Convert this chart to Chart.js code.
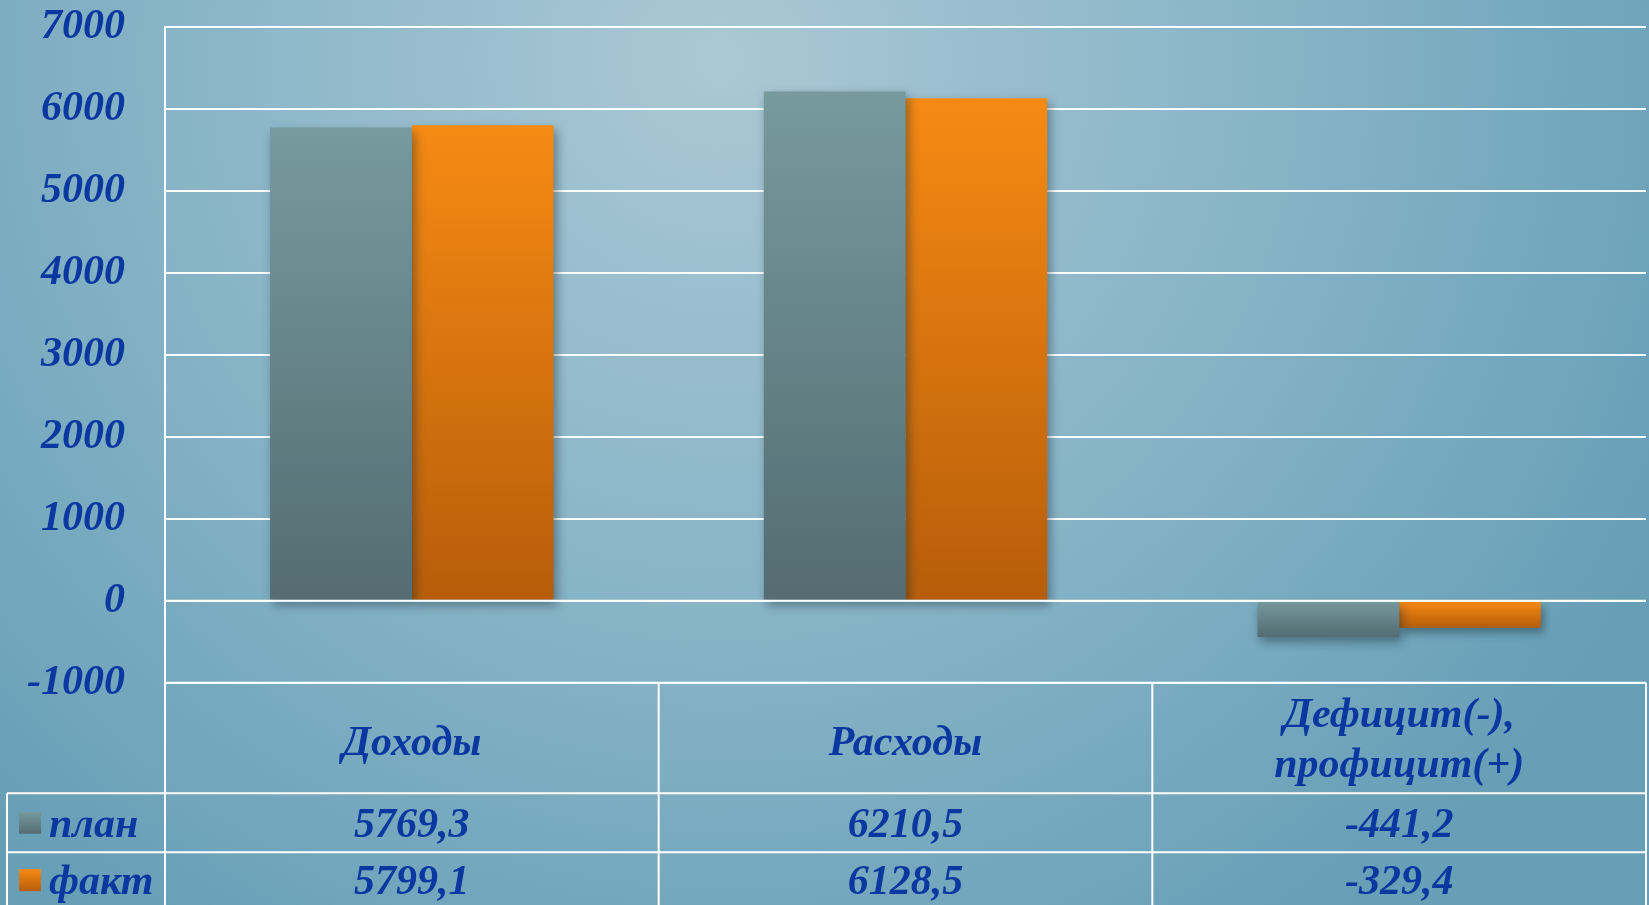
<!DOCTYPE html>
<html>
<head>
<meta charset="utf-8">
<script src="https://cdn.jsdelivr.net/npm/chart.js@4/dist/chart.umd.min.js"></script>
<style>
  html, body { margin: 0; padding: 0; overflow: hidden; }
  canvas { display: block; }
</style>
</head>
<body>
<canvas id="chart" width="1649" height="905"></canvas>
<script>
const categories = ['Доходы', 'Расходы', ['Дефицит(-),', 'профицит(+)']];
const planValues = [5769.3, 6210.5, -441.2];
const factValues = [5799.1, 6128.5, -329.4];
const seriesNames = ['план', 'факт'];
const yMin = -1000, yMax = 7000, yStep = 1000;

const TEXT_BLUE = '#0a37a0';
const FONT = 'italic bold 42px "Liberation Serif", "Times New Roman", serif';

// vertical gradient for one bar, from its top to its bottom
function barGradient(ctx, topColor, bottomColor) {
    const chart = ctx.chart;
    const y = chart.scales.y;
    if (!chart.chartArea || !y || ctx.raw === undefined) return topColor;
    const yv = y.getPixelForValue(ctx.raw);
    const y0 = y.getPixelForValue(0);
    const g = chart.ctx.createLinearGradient(0, Math.min(yv, y0), 0, Math.max(yv, y0));
    g.addColorStop(0, topColor);
    g.addColorStop(1, bottomColor);
    return g;
}

const PLAN_COLORS = ['#769a9e', '#546c72'];
const FACT_COLORS = ['#f78a13', '#b65d0a'];

const backgroundPlugin = {
    id: 'background',
    beforeDraw(chart) {
        const { ctx, width, height } = chart;
        const g = ctx.createRadialGradient(720, 60, 0, 720, 60, 1050);
        g.addColorStop(0, '#aac8d5');
        g.addColorStop(0.55, '#86b3c6');
        g.addColorStop(1, '#679fb7');
        ctx.save();
        ctx.fillStyle = g;
        ctx.fillRect(0, 0, width, height);
        ctx.restore();
    }
};

const shadowPlugin = {
    id: 'barShadow',
    beforeDatasetsDraw(chart) {
        const ctx = chart.ctx;
        ctx.save();
        ctx.shadowColor = 'rgba(20, 40, 50, 0.45)';
        ctx.shadowBlur = 10;
        ctx.shadowOffsetX = 3;
        ctx.shadowOffsetY = 5;
    },
    afterDatasetsDraw(chart) {
        const ctx = chart.ctx;
        ctx.restore();
        // zero line sits on top of the bar bases
        const y0 = chart.scales.y.getPixelForValue(0);
        ctx.save();
        ctx.strokeStyle = '#ffffff';
        ctx.lineWidth = 2;
        ctx.beginPath();
        ctx.moveTo(chart.chartArea.left, y0);
        ctx.lineTo(chart.chartArea.right, y0);
        ctx.stroke();
        ctx.restore();
    }
};

// data table under the plot: category names, values, legend keys
const tablePlugin = {
    id: 'dataTable',
    afterDraw(chart) {
        const { ctx, chartArea } = chart;
        const x = chart.scales.x;
        const n = categories.length;
        const colW = (chartArea.right - chartArea.left) / n;
        const top = chartArea.bottom;
        const headBottom = top + 110.5;
        const row1Bottom = headBottom + 59;
        const row2Bottom = row1Bottom + 56;
        const legendLeft = 7;

        ctx.save();
        ctx.strokeStyle = '#ffffff';
        ctx.lineWidth = 2;
        ctx.beginPath();
        // axis line continued down
        ctx.moveTo(chartArea.left, chartArea.top);
        ctx.lineTo(chartArea.left, chart.height);
        for (let i = 0; i < n; i++) {
            const xr = x.getPixelForValue(i) + colW / 2;
            ctx.moveTo(xr, top);
            ctx.lineTo(xr, chart.height);
        }
        ctx.moveTo(chartArea.left, top);
        ctx.lineTo(chartArea.right, top);
        ctx.moveTo(legendLeft, headBottom);
        ctx.lineTo(chartArea.right, headBottom);
        ctx.moveTo(legendLeft, row1Bottom);
        ctx.lineTo(chartArea.right, row1Bottom);
        ctx.moveTo(legendLeft, row2Bottom);
        ctx.lineTo(chartArea.right, row2Bottom);
        ctx.moveTo(legendLeft, headBottom);
        ctx.lineTo(legendLeft, chart.height);
        ctx.stroke();

        ctx.font = FONT;
        ctx.fillStyle = TEXT_BLUE;
        ctx.textAlign = 'center';
        ctx.textBaseline = 'middle';
        const fmt = v => v.toFixed(1).replace('.', ',');
        const rows = [planValues, factValues];
        const rowMid = [(headBottom + row1Bottom) / 2 + 3, (row1Bottom + row2Bottom) / 2 + 3];

        for (let i = 0; i < n; i++) {
            const cx = x.getPixelForValue(i);
            const label = categories[i];
            const lines = Array.isArray(label) ? label : [label];
            const midH = (top + headBottom) / 2 + (lines.length > 1 ? 3 : 6);
            const lh = 50;
            lines.forEach((ln, k) => {
                ctx.fillText(ln, cx, midH + (k - (lines.length - 1) / 2) * lh);
            });
            rows.forEach((vals, r) => ctx.fillText(fmt(vals[i]), cx, rowMid[r]));
        }

        // legend keys
        const keyColors = [PLAN_COLORS, FACT_COLORS];
        ctx.textAlign = 'left';
        seriesNames.forEach((name, r) => {
            const ky = rowMid[r] - 14;
            const g = ctx.createLinearGradient(0, ky, 0, ky + 22);
            g.addColorStop(0, keyColors[r][0]);
            g.addColorStop(1, keyColors[r][1]);
            ctx.fillStyle = g;
            ctx.fillRect(19, ky, 22, 22);
            ctx.fillStyle = TEXT_BLUE;
            ctx.fillText(name, 49, rowMid[r]);
        });
        ctx.restore();
    }
};

new Chart(document.getElementById('chart').getContext('2d'), {
    type: 'bar',
    data: {
        labels: categories,
        datasets: [
            {
                label: seriesNames[0],
                data: planValues,
                backgroundColor: c => barGradient(c, PLAN_COLORS[0], PLAN_COLORS[1]),
                borderWidth: 0,
                barPercentage: 1,
                categoryPercentage: 0.574
            },
            {
                label: seriesNames[1],
                data: factValues,
                backgroundColor: c => barGradient(c, FACT_COLORS[0], FACT_COLORS[1]),
                borderWidth: 0,
                barPercentage: 1,
                categoryPercentage: 0.574
            }
        ]
    },
    options: {
        responsive: false,
        animation: false,
        layout: { padding: { top: 26.7, right: 3, bottom: 222.3, left: 0 } },
        plugins: {
            legend: { display: false },
            tooltip: { enabled: false }
        },
        scales: {
            x: { display: false },
            y: {
                min: yMin,
                max: yMax,
                afterFit: s => {
                    s.width = 165;
                    s.paddingTop = 0;
                    s.paddingBottom = 0;
                },
                ticks: {
                    stepSize: yStep,
                    padding: 40,
                    color: TEXT_BLUE,
                    font: { family: '"Liberation Serif", "Times New Roman", serif', size: 42, style: 'italic', weight: 'bold' },
                    callback: v => String(v)
                },
                grid: { color: '#ffffff', lineWidth: 2, drawTicks: false },
                border: { display: true, color: '#ffffff', width: 2 }
            }
        }
    },
    plugins: [backgroundPlugin, shadowPlugin, tablePlugin]
});
</script>
</body>
</html>
